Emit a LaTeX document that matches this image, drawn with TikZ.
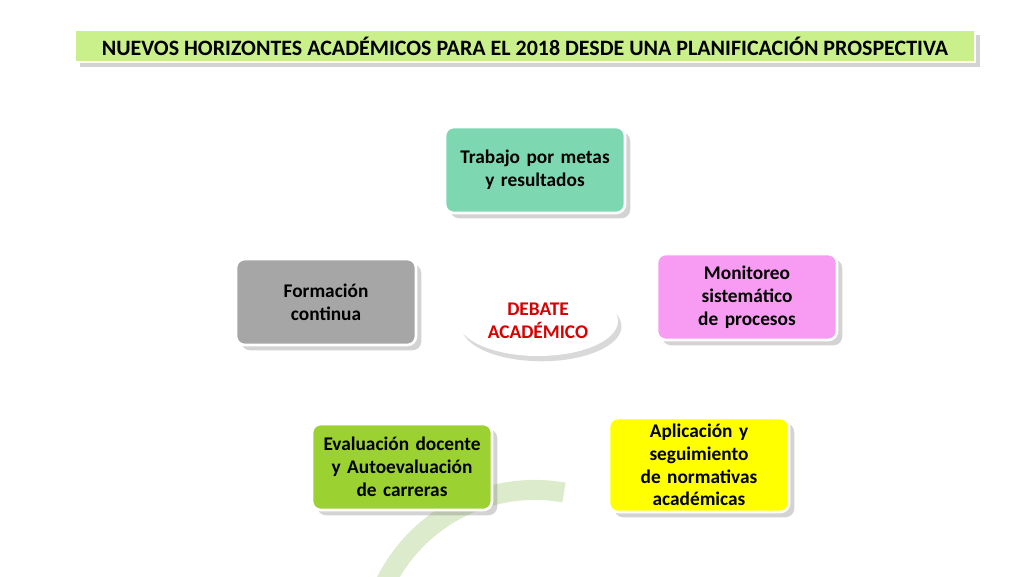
\documentclass[tikz,border=0pt]{standalone}
\usepackage{fontspec}
\setmainfont{Carlito}
\usetikzlibrary{positioning,shadows,arrows.meta,shapes.geometric}
\definecolor{ringgreen}{HTML}{DCEBCB}
\definecolor{tealbox}{HTML}{7DD8B2}
\definecolor{pinkbox}{HTML}{F79CF2}
\definecolor{yellowbox}{HTML}{FFFF00}
\definecolor{limebox}{HTML}{9BD131}
\definecolor{graybox}{HTML}{A6A6A6}
\definecolor{titlegreen}{HTML}{C9F08A}
\tikzset{
  step box/.style={draw=white, line width=1.5pt, rounded corners=5pt,
    minimum width=3.6cm, minimum height=1.72cm, text width=3.2cm, align=center,
    font=\bfseries\fontsize{11}{13}\selectfont,
    drop shadow={shadow xshift=3pt, shadow yshift=-3pt, opacity=0.35}},
}

\begin{document}
\begin{tikzpicture}[x=0.02cm, y=-0.02cm]
    \useasboundingbox (0,0) rectangle (1024,576);

    % ring
    \draw[ringgreen, line width=0.4cm, -{Triangle[length=0.55cm, width=0.9cm]}]
        (535,328) ++(80:167) arc[start angle=-80, end angle=-305, radius=167];

    \node [draw=white, line width=1pt, fill=titlegreen, minimum width=18cm, minimum height=0.64cm,
        font=\bfseries\fontsize{12.5}{14}\selectfont,
        drop shadow={shadow xshift=3pt, shadow yshift=-3pt, opacity=0.35}] (title) at (525,46)
        {NUEVOS HORIZONTES ACADÉMICOS PARA EL 2018 DESDE UNA PLANIFICACIÓN PROSPECTIVA};

    \node [step box, fill=tealbox] (metas) at (535,170) {Trabajo por metas y resultados};
    \node [step box, fill=pinkbox] (monitoreo) at (747,297) {Monitoreo sistemático de procesos};
    \node [step box, fill=yellowbox] (normativas) at (699,465) {Aplicación y seguimiento de normativas académicas};
    \node [step box, fill=limebox] (evaluacion) at (402,467) {Evaluación docente y Autoevaluación de carreras};
    \node [step box, fill=graybox] (formacion) at (326,302) {Formación continua};

    \node [ellipse, fill=white, minimum width=3.2cm, minimum height=1.4cm, align=center,
        text=red!85!black, font=\bfseries\fontsize{11}{13}\selectfont,
        drop shadow={shadow xshift=2pt, shadow yshift=-3pt, opacity=0.3}] (debate) at (538,321)
        {DEBATE\\ACADÉMICO};
\end{tikzpicture}
\end{document}
